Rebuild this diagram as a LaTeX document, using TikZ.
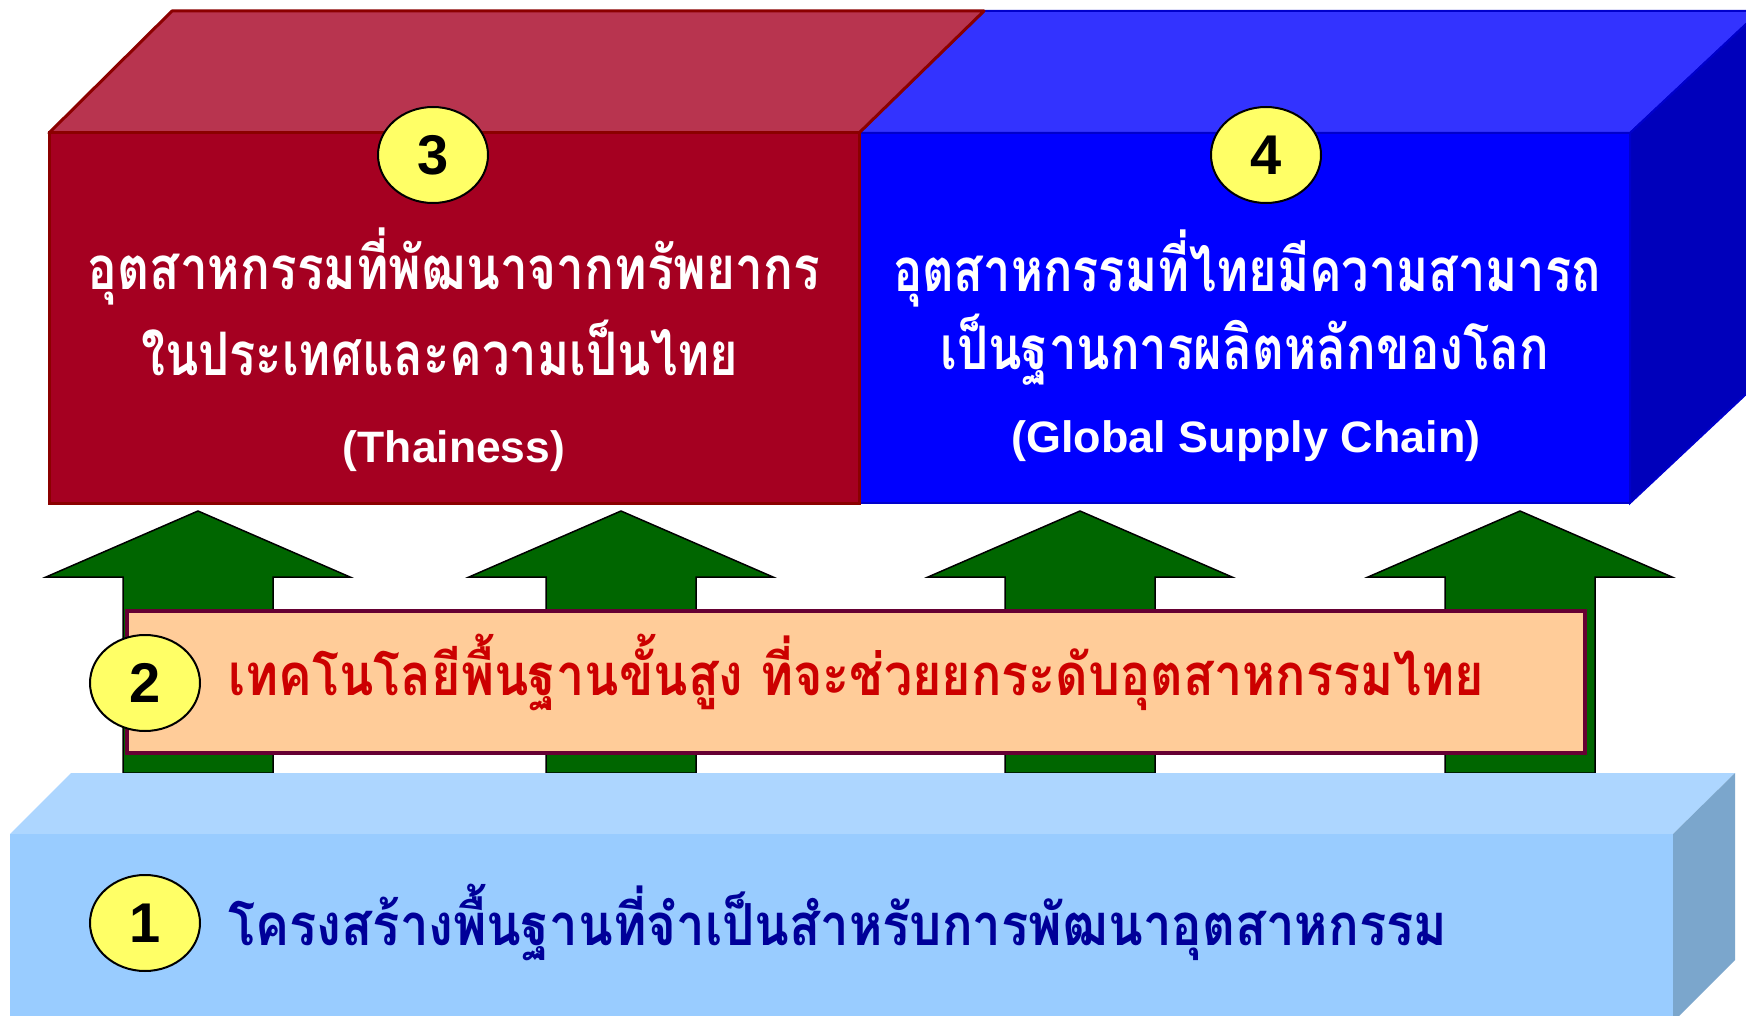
\documentclass[tikz,border=0pt]{standalone}
\usepackage{fontspec}
\usepackage{graphicx}
\setmainfont{Liberation Sans}
\newfontfamily\thaifont[Script=Thai]{Loma}
\usetikzlibrary{shapes.geometric}
\definecolor{redfront}{HTML}{A50021}
\definecolor{redtop}{HTML}{B8344F}
\definecolor{redline}{HTML}{8B0000}
\definecolor{bluefront}{HTML}{0000FF}
\definecolor{bluetop}{HTML}{3333FF}
\definecolor{blueside}{HTML}{0000BB}
\definecolor{blueline}{HTML}{0000CC}
\definecolor{lbfront}{HTML}{99CCFF}
\definecolor{lbtop}{HTML}{ADD6FF}
\definecolor{lbside}{HTML}{7BA6CC}
\definecolor{arrowgreen}{HTML}{006600}
\definecolor{orangefill}{HTML}{FFCC99}
\definecolor{orangeline}{HTML}{660033}
\definecolor{badgefill}{HTML}{FFFF66}
\definecolor{redtext}{HTML}{CC0000}
\definecolor{navytext}{HTML}{000099}
\newcommand\fitw[2]{\resizebox{#1}{\height}{#2}}
\tikzset{
  badge/.style={ellipse, fill=badgefill, draw=black, line width=2pt, minimum width=110pt, minimum height=96pt, inner sep=0pt, font=\bfseries\fontsize{56pt}{56pt}\selectfont},
  thaiwhite/.style={inner sep=0pt, text=white, font=\thaifont\bfseries\fontsize{60pt}{60pt}\selectfont},
  latinwhite/.style={inner sep=0pt, text=white, font=\bfseries\fontsize{44pt}{44pt}\selectfont},
  thaired/.style={inner sep=0pt, text=redtext, font=\thaifont\bfseries\fontsize{58pt}{58pt}\selectfont},
  thainavy/.style={inner sep=0pt, text=navytext, font=\thaifont\bfseries\fontsize{58pt}{58pt}\selectfont},
  uparrow/.style={fill=arrowgreen, draw=black, line width=1.5pt, line join=miter}
}
\begin{document}
\begin{tikzpicture}[x=1pt,y=-1pt]
\useasboundingbox (0,0) rectangle (1746,1016);
\fill[white] (0,0) rectangle (1746,1016);
\begin{scope}
\clip (0,0) rectangle (1746,1016);
% blue box (4)
\filldraw[fill=bluetop, draw=blueline, line width=2pt] (859,133) -- (984,11) -- (1760,11) -- (1630,133) -- cycle;
\filldraw[fill=blueside, draw=blueline, line width=2pt] (1630,133) -- (1760,11) -- (1760,381) -- (1630,503) -- cycle;
\filldraw[fill=bluefront, draw=blueline, line width=2pt] (859,133) rectangle (1630,503);
% red box (3)
\filldraw[fill=redtop, draw=redline, line width=3pt, line join=round] (49,133) -- (172,11) -- (984,11) -- (859,133) -- cycle;
\filldraw[fill=redfront, draw=redline, line width=3pt] (49,133) rectangle (859,503);
% arrows
\foreach \cx in {198,621,1080,1520}{
  \filldraw[uparrow] (\cx,511) -- (\cx+152,577) -- (\cx+75,577) -- (\cx+75,773) -- (\cx-75,773) -- (\cx-75,577) -- (\cx-152,577) -- cycle;
}
% light blue base (1)
\fill[lbtop] (10,834) -- (71,773) -- (1735,773) -- (1673,834) -- cycle;
\fill[lbside] (1673,834) -- (1735,773) -- (1735,960) -- (1673,1022) -- cycle;
\fill[lbfront] (10,834) rectangle (1673,1030);
\end{scope}
% orange band (2)
\filldraw[fill=orangefill, draw=orangeline, line width=4pt] (127,611) rectangle (1585,753);
% badges
\node[badge] (b3) at (433,155) {3};
\node[badge] (b4) at (1266,155) {4};
\node[badge] (b2) at (145,683) {2};
\node[badge] (b1) at (145,923) {1};
% texts
\node[thaiwhite, anchor=base] (t3a) at (454,290) {\fitw{732pt}{อุตสาหกรรมที่พัฒนาจากทรัพยากร}};
\node[thaiwhite, anchor=base] (t3b) at (440,375) {\fitw{597pt}{ในประเทศและความเป็นไทย}};
\node[latinwhite, anchor=base] (t3c) at (454,462) {\fitw{222pt}{(Thainess)}};
\node[thaiwhite, anchor=base] (t4a) at (1247,292) {\fitw{708pt}{อุตสาหกรรมที่ไทยมีความสามารถ}};
\node[thaiwhite, anchor=base] (t4b) at (1245,370) {\fitw{609pt}{เป็นฐานการผลิตหลักของโลก}};
\node[latinwhite, anchor=base] (t4c) at (1246,452) {\fitw{469pt}{(Global Supply Chain)}};
\node[thaired, anchor=base west] (t2) at (228,695) {\fitw{1256pt}{เทคโนโลยีพื้นฐานขั้นสูง ที่จะช่วยยกระดับอุตสาหกรรมไทย}};
\node[thainavy, anchor=base west] (t1) at (228,945) {\fitw{1219pt}{โครงสร้างพื้นฐานที่จำเป็นสำหรับการพัฒนาอุตสาหกรรม}};
\end{tikzpicture}
\end{document}
